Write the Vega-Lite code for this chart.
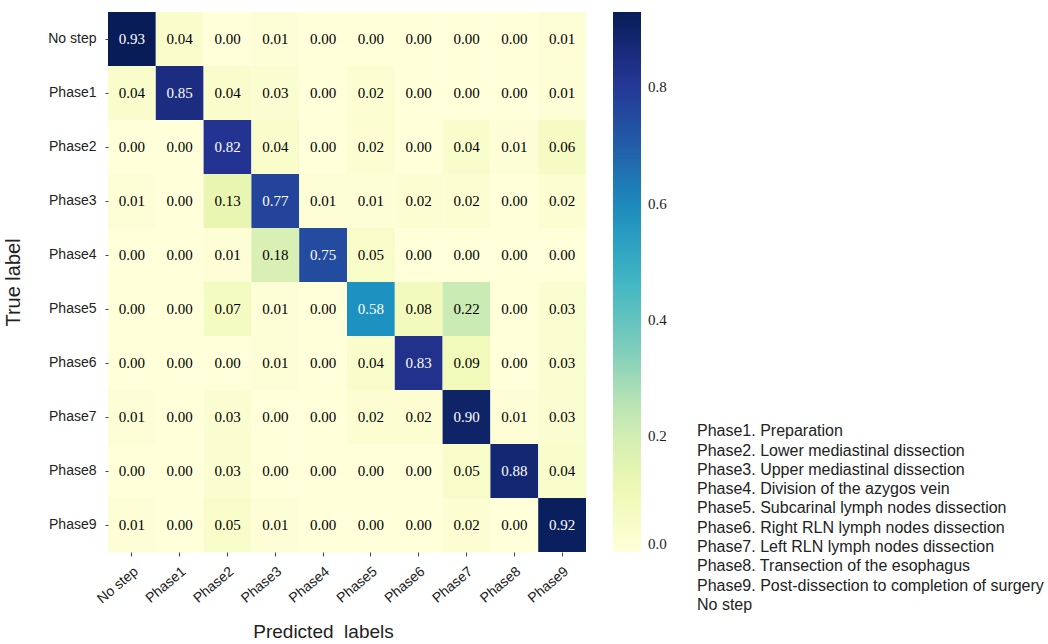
{
  "$schema": "https://vega.github.io/schema/vega-lite/v6.json",
  "width": 478,
  "height": 540,
  "autosize": {"type": "none"},
  "padding": {"left": 108, "top": 12, "right": 462, "bottom": 92},
  "background": "white",
  "config": {"view": {"stroke": null}},
  "title": {
    "text": ["Phase1. Preparation", "Phase2. Lower mediastinal dissection", "Phase3. Upper mediastinal dissection", "Phase4. Division of the azygos vein", "Phase5. Subcarinal lymph nodes dissection", "Phase6. Right RLN lymph nodes dissection", "Phase7. Left RLN lymph nodes dissection", "Phase8. Transection of the esophagus", "Phase9. Post-dissection to completion of surgery", "No step"],
    "orient": "top",
    "anchor": "start",
    "frame": "group",
    "align": "left",
    "baseline": "top",
    "offset": 0,
    "dx": 589,
    "dy": 601,
    "font": "Liberation Sans",
    "fontSize": 16,
    "fontWeight": "normal",
    "lineHeight": 19.3,
    "color": "#222222"
  },
  "data": {
    "values": [
      {"t":"No step","p":"No step","v":0.93},{"t":"No step","p":"Phase1","v":0.04},{"t":"No step","p":"Phase2","v":0.00},{"t":"No step","p":"Phase3","v":0.01},{"t":"No step","p":"Phase4","v":0.00},{"t":"No step","p":"Phase5","v":0.00},{"t":"No step","p":"Phase6","v":0.00},{"t":"No step","p":"Phase7","v":0.00},{"t":"No step","p":"Phase8","v":0.00},{"t":"No step","p":"Phase9","v":0.01},
      {"t":"Phase1","p":"No step","v":0.04},{"t":"Phase1","p":"Phase1","v":0.85},{"t":"Phase1","p":"Phase2","v":0.04},{"t":"Phase1","p":"Phase3","v":0.03},{"t":"Phase1","p":"Phase4","v":0.00},{"t":"Phase1","p":"Phase5","v":0.02},{"t":"Phase1","p":"Phase6","v":0.00},{"t":"Phase1","p":"Phase7","v":0.00},{"t":"Phase1","p":"Phase8","v":0.00},{"t":"Phase1","p":"Phase9","v":0.01},
      {"t":"Phase2","p":"No step","v":0.00},{"t":"Phase2","p":"Phase1","v":0.00},{"t":"Phase2","p":"Phase2","v":0.82},{"t":"Phase2","p":"Phase3","v":0.04},{"t":"Phase2","p":"Phase4","v":0.00},{"t":"Phase2","p":"Phase5","v":0.02},{"t":"Phase2","p":"Phase6","v":0.00},{"t":"Phase2","p":"Phase7","v":0.04},{"t":"Phase2","p":"Phase8","v":0.01},{"t":"Phase2","p":"Phase9","v":0.06},
      {"t":"Phase3","p":"No step","v":0.01},{"t":"Phase3","p":"Phase1","v":0.00},{"t":"Phase3","p":"Phase2","v":0.13},{"t":"Phase3","p":"Phase3","v":0.77},{"t":"Phase3","p":"Phase4","v":0.01},{"t":"Phase3","p":"Phase5","v":0.01},{"t":"Phase3","p":"Phase6","v":0.02},{"t":"Phase3","p":"Phase7","v":0.02},{"t":"Phase3","p":"Phase8","v":0.00},{"t":"Phase3","p":"Phase9","v":0.02},
      {"t":"Phase4","p":"No step","v":0.00},{"t":"Phase4","p":"Phase1","v":0.00},{"t":"Phase4","p":"Phase2","v":0.01},{"t":"Phase4","p":"Phase3","v":0.18},{"t":"Phase4","p":"Phase4","v":0.75},{"t":"Phase4","p":"Phase5","v":0.05},{"t":"Phase4","p":"Phase6","v":0.00},{"t":"Phase4","p":"Phase7","v":0.00},{"t":"Phase4","p":"Phase8","v":0.00},{"t":"Phase4","p":"Phase9","v":0.00},
      {"t":"Phase5","p":"No step","v":0.00},{"t":"Phase5","p":"Phase1","v":0.00},{"t":"Phase5","p":"Phase2","v":0.07},{"t":"Phase5","p":"Phase3","v":0.01},{"t":"Phase5","p":"Phase4","v":0.00},{"t":"Phase5","p":"Phase5","v":0.58},{"t":"Phase5","p":"Phase6","v":0.08},{"t":"Phase5","p":"Phase7","v":0.22},{"t":"Phase5","p":"Phase8","v":0.00},{"t":"Phase5","p":"Phase9","v":0.03},
      {"t":"Phase6","p":"No step","v":0.00},{"t":"Phase6","p":"Phase1","v":0.00},{"t":"Phase6","p":"Phase2","v":0.00},{"t":"Phase6","p":"Phase3","v":0.01},{"t":"Phase6","p":"Phase4","v":0.00},{"t":"Phase6","p":"Phase5","v":0.04},{"t":"Phase6","p":"Phase6","v":0.83},{"t":"Phase6","p":"Phase7","v":0.09},{"t":"Phase6","p":"Phase8","v":0.00},{"t":"Phase6","p":"Phase9","v":0.03},
      {"t":"Phase7","p":"No step","v":0.01},{"t":"Phase7","p":"Phase1","v":0.00},{"t":"Phase7","p":"Phase2","v":0.03},{"t":"Phase7","p":"Phase3","v":0.00},{"t":"Phase7","p":"Phase4","v":0.00},{"t":"Phase7","p":"Phase5","v":0.02},{"t":"Phase7","p":"Phase6","v":0.02},{"t":"Phase7","p":"Phase7","v":0.90},{"t":"Phase7","p":"Phase8","v":0.01},{"t":"Phase7","p":"Phase9","v":0.03},
      {"t":"Phase8","p":"No step","v":0.00},{"t":"Phase8","p":"Phase1","v":0.00},{"t":"Phase8","p":"Phase2","v":0.03},{"t":"Phase8","p":"Phase3","v":0.00},{"t":"Phase8","p":"Phase4","v":0.00},{"t":"Phase8","p":"Phase5","v":0.00},{"t":"Phase8","p":"Phase6","v":0.00},{"t":"Phase8","p":"Phase7","v":0.05},{"t":"Phase8","p":"Phase8","v":0.88},{"t":"Phase8","p":"Phase9","v":0.04},
      {"t":"Phase9","p":"No step","v":0.01},{"t":"Phase9","p":"Phase1","v":0.00},{"t":"Phase9","p":"Phase2","v":0.05},{"t":"Phase9","p":"Phase3","v":0.01},{"t":"Phase9","p":"Phase4","v":0.00},{"t":"Phase9","p":"Phase5","v":0.00},{"t":"Phase9","p":"Phase6","v":0.00},{"t":"Phase9","p":"Phase7","v":0.02},{"t":"Phase9","p":"Phase8","v":0.00},{"t":"Phase9","p":"Phase9","v":0.92}
    ]
  },
  "encoding": {
    "x": {
      "field": "p", "type": "nominal",
      "sort": ["No step","Phase1","Phase2","Phase3","Phase4","Phase5","Phase6","Phase7","Phase8","Phase9"],
      "scale": {"paddingInner": 0, "paddingOuter": 0},
      "axis": {
        "title": "Predicted\u00a0 labels",
        "titleFont": "Liberation Sans", "titleFontSize": 19, "titleFontWeight": "normal", "titleColor": "#222222", "titlePadding": 17,
        "titleX": 215, "titleAnchor": "middle",
        "labelAngle": -40, "labelAlign": "right", "labelBaseline": "top",
        "labelFont": "Liberation Sans", "labelFontSize": 14, "labelColor": "#222222", "labelPadding": 8,
        "domain": false, "grid": false, "ticks": true, "tickSize": 4, "tickColor": "#444444"
      }
    },
    "y": {
      "field": "t", "type": "nominal",
      "sort": ["No step","Phase1","Phase2","Phase3","Phase4","Phase5","Phase6","Phase7","Phase8","Phase9"],
      "scale": {"paddingInner": 0, "paddingOuter": 0},
      "axis": {
        "title": "True label",
        "titleFont": "Liberation Sans", "titleFontSize": 20, "titleFontWeight": "normal", "titleColor": "#222222", "titlePadding": 24,
        "labelFont": "Liberation Sans", "labelFontSize": 14, "labelColor": "#222222", "labelPadding": 9,
        "domain": false, "grid": false, "ticks": true, "tickSize": 3, "tickColor": "#444444"
      }
    }
  },
  "layer": [
    {
      "mark": {"type": "rect"},
      "encoding": {
        "color": {
          "field": "v", "type": "quantitative",
          "scale": {
            "type": "linear",
            "domain": [0, 0.11625, 0.2325, 0.34875, 0.465, 0.58125, 0.6975, 0.81375, 0.93],
            "range": ["#ffffd9", "#edf8b1", "#c7e9b4", "#7fcdbb", "#41b6c4", "#1d91c0", "#225ea8", "#253494", "#081d58"],
            "interpolate": "rgb"
          },
          "legend": {
            "title": null,
            "orient": "none",
            "legendX": 505,
            "legendY": 0,
            "padding": 0,
            "direction": "vertical",
            "gradientLength": 540,
            "gradientThickness": 28,
            "gradientStrokeWidth": 0,
            "values": [0, 0.2, 0.4, 0.6, 0.8],
            "format": ".1f",
            "labelFont": "Liberation Serif",
            "labelFontSize": 15,
            "labelColor": "#222222",
            "labelOffset": 7,
            "labelOverlap": false
          }
        }
      }
    },
    {
      "mark": {"type": "text", "font": "Liberation Serif", "fontSize": 15},
      "encoding": {
        "text": {"field": "v", "type": "quantitative", "format": ".2f"},
        "color": {"condition": {"test": "datum.v > 0.5", "value": "white"}, "value": "black"}
      }
    }
  ]
}
